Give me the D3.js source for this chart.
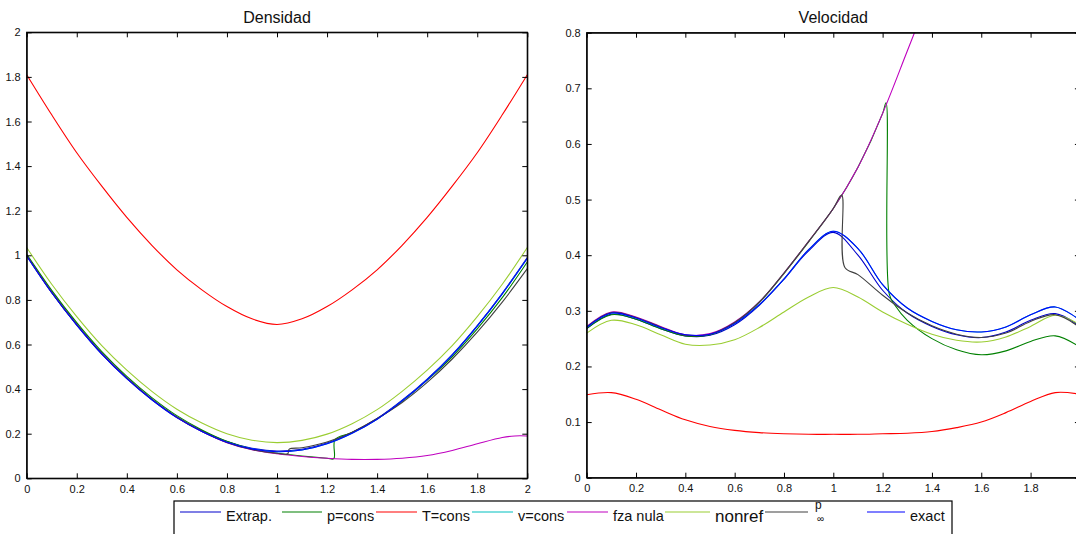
<!DOCTYPE html>
<html><head><meta charset="utf-8">
<script src="https://cdn.jsdelivr.net/npm/d3@7"></script>
<style>
body{margin:0;background:#fff;}
svg{display:block;font-family:"Liberation Sans",Arial,Helvetica,sans-serif;}
</style></head>
<body>
<svg id="c" width="1076" height="534"></svg>
<script>
// ---------------- DATA ----------------
const titles = ["Densidad", "Velocidad"];
const legendLabels = ["Extrap.", "p=cons", "T=cons", "v=cons", "fza nula", "nonref", "p∞", "exact"];
const xTicks = [0, 0.2, 0.4, 0.6, 0.8, 1, 1.2, 1.4, 1.6, 1.8, 2];
const xTicksVel = [0, 0.2, 0.4, 0.6, 0.8, 1, 1.2, 1.4, 1.6, 1.8];
const densTicks = [0, 0.2, 0.4, 0.6, 0.8, 1, 1.2, 1.4, 1.6, 1.8, 2];
const velTicks = [0, 0.1, 0.2, 0.3, 0.4, 0.5, 0.6, 0.7, 0.8];

const gridX = [0,0.1,0.2,0.3,0.4,0.5,0.6,0.7,0.8,0.9,1.0,1.1,1.2,1.3,1.4,1.5,1.6,1.7,1.8,1.9,2.0];

// Density
const densExtrap = [1.0,0.835,0.69,0.56,0.45,0.355,0.275,0.213,0.165,0.135,0.122,0.13,0.158,0.205,0.268,0.35,0.445,0.555,0.685,0.83,0.99];
const densExact  = [0.997,0.832,0.687,0.557,0.447,0.352,0.272,0.21,0.162,0.132,0.119,0.127,0.155,0.202,0.265,0.347,0.442,0.552,0.682,0.827,0.987];
const densVcons  = [0.997,0.832,0.687,0.557,0.447,0.352,0.272,0.21,0.162,0.132,0.119,0.127,0.155,0.202,0.265,0.347,0.442,0.552,0.682,0.827,0.987];
const densTcons  = [1.81,1.63,1.46,1.31,1.17,1.045,0.935,0.845,0.77,0.715,0.69,0.715,0.77,0.845,0.935,1.045,1.17,1.31,1.46,1.63,1.81];
const densNonref = [1.035,0.87,0.725,0.595,0.485,0.39,0.31,0.248,0.2,0.171,0.16,0.17,0.198,0.245,0.308,0.39,0.485,0.595,0.725,0.87,1.035];
const densPconsX = [0,0.1,0.2,0.3,0.4,0.5,0.6,0.7,0.8,0.9,1.0,1.1,1.2,1.227,1.232,1.3,1.4,1.5,1.6,1.7,1.8,1.9,2.0];
const densPcons  = [1.005,0.843,0.698,0.568,0.457,0.362,0.281,0.217,0.166,0.131,0.112,0.1,0.09,0.088,0.174,0.205,0.266,0.345,0.44,0.545,0.67,0.81,0.97];
const densFzaX   = [0,0.1,0.2,0.3,0.4,0.5,0.6,0.7,0.8,0.9,1.0,1.1,1.2,1.3,1.4,1.5,1.6,1.7,1.8,1.9,1.95,2.0];
const densFza    = [0.998,0.833,0.688,0.558,0.448,0.353,0.273,0.21,0.16,0.128,0.11,0.098,0.09,0.085,0.085,0.09,0.102,0.125,0.155,0.183,0.19,0.19];
const densPinfX  = [0,0.1,0.2,0.3,0.4,0.5,0.6,0.7,0.8,0.9,1.0,1.043,1.048,1.1,1.2,1.3,1.4,1.5,1.6,1.7,1.8,1.9,2.0];
const densPinf   = [0.999,0.834,0.689,0.559,0.449,0.354,0.274,0.211,0.161,0.129,0.112,0.11,0.13,0.137,0.163,0.207,0.268,0.34,0.43,0.535,0.655,0.79,0.94];

// Velocity
const velExtrap = [0.268,0.294,0.285,0.268,0.255,0.256,0.275,0.31,0.357,0.408,0.441,0.4,0.337,0.296,0.272,0.257,0.252,0.262,0.283,0.295,0.272];
const velExact  = [0.27,0.296,0.287,0.27,0.257,0.258,0.277,0.311,0.357,0.41,0.443,0.412,0.347,0.305,0.281,0.266,0.262,0.271,0.293,0.307,0.283];
const velVcons  = [0.27,0.296,0.287,0.27,0.257,0.258,0.277,0.311,0.357,0.41,0.443,0.412,0.347,0.305,0.281,0.266,0.262,0.271,0.293,0.307,0.283];
const velTcons  = [0.149,0.153,0.141,0.122,0.104,0.092,0.085,0.081,0.079,0.078,0.078,0.078,0.079,0.08,0.083,0.09,0.1,0.117,0.137,0.153,0.15];
const velNonref = [0.26,0.283,0.275,0.257,0.24,0.2385,0.248,0.27,0.298,0.325,0.342,0.325,0.298,0.276,0.258,0.247,0.244,0.253,0.272,0.292,0.275];
const velFzaX   = [0,0.1,0.2,0.3,0.4,0.5,0.6,0.7,0.8,0.9,1.0,1.1,1.2,1.3,1.4];
const velFza    = [0.272,0.298,0.289,0.272,0.257,0.259,0.28,0.316,0.368,0.425,0.484,0.558,0.655,0.767,0.88];
const velPconsX = [0,0.1,0.2,0.3,0.4,0.5,0.6,0.7,0.8,0.9,1.0,1.1,1.2,1.214,1.227,1.25,1.3,1.4,1.5,1.6,1.7,1.8,1.9,2.0];
const velPcons  = [0.268,0.293,0.285,0.268,0.255,0.257,0.278,0.315,0.367,0.424,0.484,0.558,0.655,0.674,0.33,0.31,0.283,0.25,0.23,0.221,0.228,0.245,0.255,0.235];
const velPinfX  = [0,0.1,0.2,0.3,0.4,0.5,0.6,0.7,0.8,0.9,1.0,1.034,1.047,1.1,1.2,1.3,1.4,1.5,1.6,1.7,1.8,1.9,2.0];
const velPinf   = [0.271,0.297,0.288,0.271,0.256,0.258,0.279,0.316,0.368,0.425,0.484,0.508,0.378,0.365,0.328,0.296,0.273,0.258,0.252,0.26,0.281,0.293,0.27];

const colors = {extrap:"#0000cc", pcons:"#008000", tcons:"#ff0000", vcons:"#00bfbf", fza:"#bf00bf", nonref:"#9acd32", pinf:"#404040", exact:"#0000ff"};

// ---------------- DRAW ----------------
const svg = d3.select("#c");
const fmt = d => String(+(+d).toFixed(1));

function panel(id, xr, yr, ydom, xticks, yticks, title, series) {
  const x = d3.scaleLinear([0, 2], xr);
  const y = d3.scaleLinear(ydom, yr);
  const g = svg.append("g");
  g.append("clipPath").attr("id", id).append("rect")
    .attr("x", xr[0]).attr("y", yr[1]).attr("width", xr[1]-xr[0]).attr("height", yr[0]-yr[1]);
  const line = d3.line().x(d => x(d[0])).y(d => y(d[1])).curve(d3.curveCatmullRom.alpha(0.5));
  const lg = g.append("g").attr("clip-path", `url(#${id})`);
  series.forEach(s => {
    const pts = s.xs.map((v, i) => [v, s.ys[i]]);
    lg.append("path").attr("d", line(pts)).attr("fill", "none")
      .attr("stroke", s.color).attr("stroke-width", 1.1);
  });
  const style = a => {
    a.selectAll("text").attr("font-size", 11).attr("fill", "#111")
      .attr("font-family", "'Liberation Sans',Arial,sans-serif");
    a.selectAll("line").attr("stroke", "#000");
    a.select(".domain").attr("stroke", "#000");
  };
  g.append("g").attr("transform", `translate(0,${yr[0]})`)
    .call(d3.axisBottom(x).tickValues(xticks).tickFormat(fmt).tickSizeInner(-5).tickSizeOuter(0).tickPadding(7)).call(style);
  g.append("g").attr("transform", `translate(0,${yr[1]})`)
    .call(d3.axisTop(x).tickValues(xticks).tickFormat("").tickSizeInner(-5).tickSizeOuter(0)).call(style);
  g.append("g").attr("transform", `translate(${xr[0]},0)`)
    .call(d3.axisLeft(y).tickValues(yticks).tickFormat(fmt).tickSizeInner(-5).tickSizeOuter(0).tickPadding(6)).call(style);
  g.append("g").attr("transform", `translate(${xr[1]},0)`)
    .call(d3.axisRight(y).tickValues(yticks).tickFormat("").tickSizeInner(-5).tickSizeOuter(0)).call(style);
  g.append("rect").attr("x", xr[0]).attr("y", yr[1]).attr("width", xr[1]-xr[0]).attr("height", yr[0]-yr[1])
    .attr("fill", "none").attr("stroke", "#000").attr("stroke-width", 1.2);
  g.append("text").attr("x", (xr[0] + xr[1]) / 2).attr("y", 23)
    .attr("text-anchor", "middle").attr("font-size", 16).attr("fill", "#111").text(title);
}

panel("clipL", [26.7, 527.3], [478.3, 32.3], [0, 2], xTicks, densTicks, titles[0], [
  {xs: gridX, ys: densExtrap, color: colors.extrap},
  {xs: densPconsX, ys: densPcons, color: colors.pcons},
  {xs: gridX, ys: densTcons, color: colors.tcons},
  {xs: gridX, ys: densVcons, color: colors.vcons},
  {xs: densFzaX, ys: densFza, color: colors.fza},
  {xs: gridX, ys: densNonref, color: colors.nonref},
  {xs: densPinfX, ys: densPinf, color: colors.pinf},
  {xs: gridX, ys: densExact, color: colors.exact}
]);

panel("clipR", [586.7, 1079.9], [477.7, 32.7], [0, 0.8], xTicksVel, velTicks, titles[1], [
  {xs: gridX, ys: velExtrap, color: colors.extrap},
  {xs: velPconsX, ys: velPcons, color: colors.pcons},
  {xs: gridX, ys: velTcons, color: colors.tcons},
  {xs: gridX, ys: velVcons, color: colors.vcons},
  {xs: velFzaX, ys: velFza, color: colors.fza},
  {xs: gridX, ys: velNonref, color: colors.nonref},
  {xs: velPinfX, ys: velPinf, color: colors.pinf},
  {xs: gridX, ys: velExact, color: colors.exact}
]);

// Legend
const lg = svg.append("g");
lg.append("rect").attr("x", 174).attr("y", 501).attr("width", 778).attr("height", 45)
  .attr("fill", "#fff").attr("stroke", "#000").attr("stroke-width", 1.2);
const legendCols = [colors.extrap, colors.pcons, colors.tcons, colors.vcons, colors.fza, colors.nonref, colors.pinf, colors.exact];
const legendX1 = [180, 282, 376, 472, 567, 665, 765, 867];
const legendX2 = [221, 322, 417, 513, 608, 710, 808, 905];
legendLabels.forEach((lab, i) => {
  lg.append("line").attr("x1", legendX1[i]).attr("x2", legendX2[i]).attr("y1", 512).attr("y2", 512)
    .attr("stroke", legendCols[i]).attr("stroke-width", 1.1);
  const tx = legendX2[i] + 5;
  if (lab === "p∞") {
    const t = lg.append("text").attr("x", tx + 2).attr("y", 509).attr("font-size", 12).attr("fill", "#111");
    t.append("tspan").text("p");
    t.append("tspan").attr("x", tx + 4).attr("dy", 13).attr("font-size", 10).text("∞");
  } else {
    lg.append("text").attr("x", tx).attr("y", lab === "nonref" ? 522 : 521)
      .attr("font-size", lab === "nonref" ? 17 : 14.5).attr("fill", "#111").text(lab);
  }
});
</script>
</body></html>
